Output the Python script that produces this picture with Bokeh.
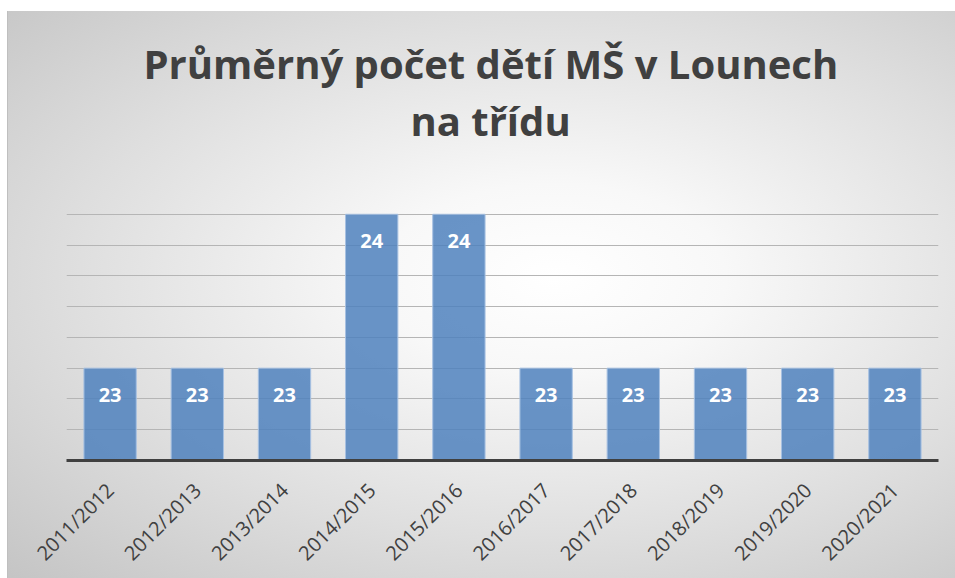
from bokeh.plotting import figure
from bokeh.models import FactorRange, Range1d, FixedTicker, Title
from bokeh.core.properties import value
from bokeh.embed import file_html
from bokeh.resources import INLINE
import math

# ---- data ----
years = ["2011/2012", "2012/2013", "2013/2014", "2014/2015", "2015/2016",
         "2016/2017", "2017/2018", "2018/2019", "2019/2020", "2020/2021"]
avg_children = [23, 23, 23, 24, 24, 23, 23, 23, 23, 23]
labels = [str(v) for v in avg_children]
title_line1 = "Průměrný počet dětí MŠ v Lounech"
title_line2 = "na třídu"

# axis settings (hidden value axis)
y_min, y_max, y_step = 22.4, 24.2, 0.2
grid_ticks = [round(y_min + y_step * i, 2) for i in range(int(round((y_max - y_min) / y_step)) + 1)]

FONT = "Open Sans"
TXT = "#404040"

p = figure(width=955, height=578, output_backend="svg", toolbar_location=None,
           x_range=FactorRange(factors=years, range_padding=0),
           y_range=Range1d(y_min, y_max),
           min_border_left=66, min_border_right=17, min_border_top=183, min_border_bottom=118)

p.border_fill_alpha = 0
p.background_fill_alpha = 0
p.outline_line_color = None
p.styles = {
    "background": (
        "linear-gradient(#ffffff,#ffffff) 0 0/100% 11px no-repeat,"
        "linear-gradient(#ffffff,#ffffff) 0 0/7px 100% no-repeat,"
        "linear-gradient(#bfbfbf,#bfbfbf) 7px 10px/100% 1px no-repeat,"
        "linear-gradient(#bfbfbf,#bfbfbf) 7px 10px/1px 100% no-repeat,"
        "radial-gradient(ellipse farthest-corner at 58% 48%, #ffffff 0%, #f8f8f8 22%, #dedede 62%, #c4c4c4 100%)"
    )
}

# titles (first added is closest to the plot); the first one is a practically invisible spacer
spacer = Title(text=".", align="left", text_font=FONT, text_font_style="bold",
               text_font_size="40px", text_color="#f0f0f0", text_alpha=0.01, standoff=6)
t2 = Title(text=title_line2, align="left", text_font=FONT, text_font_style="bold",
           text_font_size="40px", text_color=TXT, standoff=0, offset=344)
t1 = Title(text=title_line1, align="left", text_font=FONT, text_font_style="bold",
           text_font_size="40px", text_color=TXT, standoff=-1, offset=77)
p.add_layout(spacer, "above")
p.add_layout(t2, "above")
p.add_layout(t1, "above")

p.vbar(x=years, top=avg_children, bottom=y_min, width=0.6,
       fill_color="#4f81bd", fill_alpha=0.85, line_color="#a7c1e2", line_width=1)

p.text(x=years, y=avg_children, text=labels, y_offset=27,
       text_font=value(FONT), text_font_style="bold", text_font_size="20px",
       text_color="white", text_align="center", text_baseline="middle")

p.ygrid.ticker = FixedTicker(ticks=grid_ticks)
p.ygrid.grid_line_color = "#b5b5b5"
p.ygrid.grid_line_width = 1
p.xgrid.grid_line_color = None
p.yaxis.visible = False

xa = p.xaxis[0]
xa.axis_line_color = TXT
xa.axis_line_width = 3
xa.major_tick_line_color = None
xa.minor_tick_line_color = None
xa.major_label_orientation = math.pi / 4
xa.major_label_text_font = FONT
xa.major_label_text_font_size = "20px"
xa.major_label_text_color = TXT
xa.major_label_standoff = 20

open("out.html", "w").write(file_html(p, INLINE))
